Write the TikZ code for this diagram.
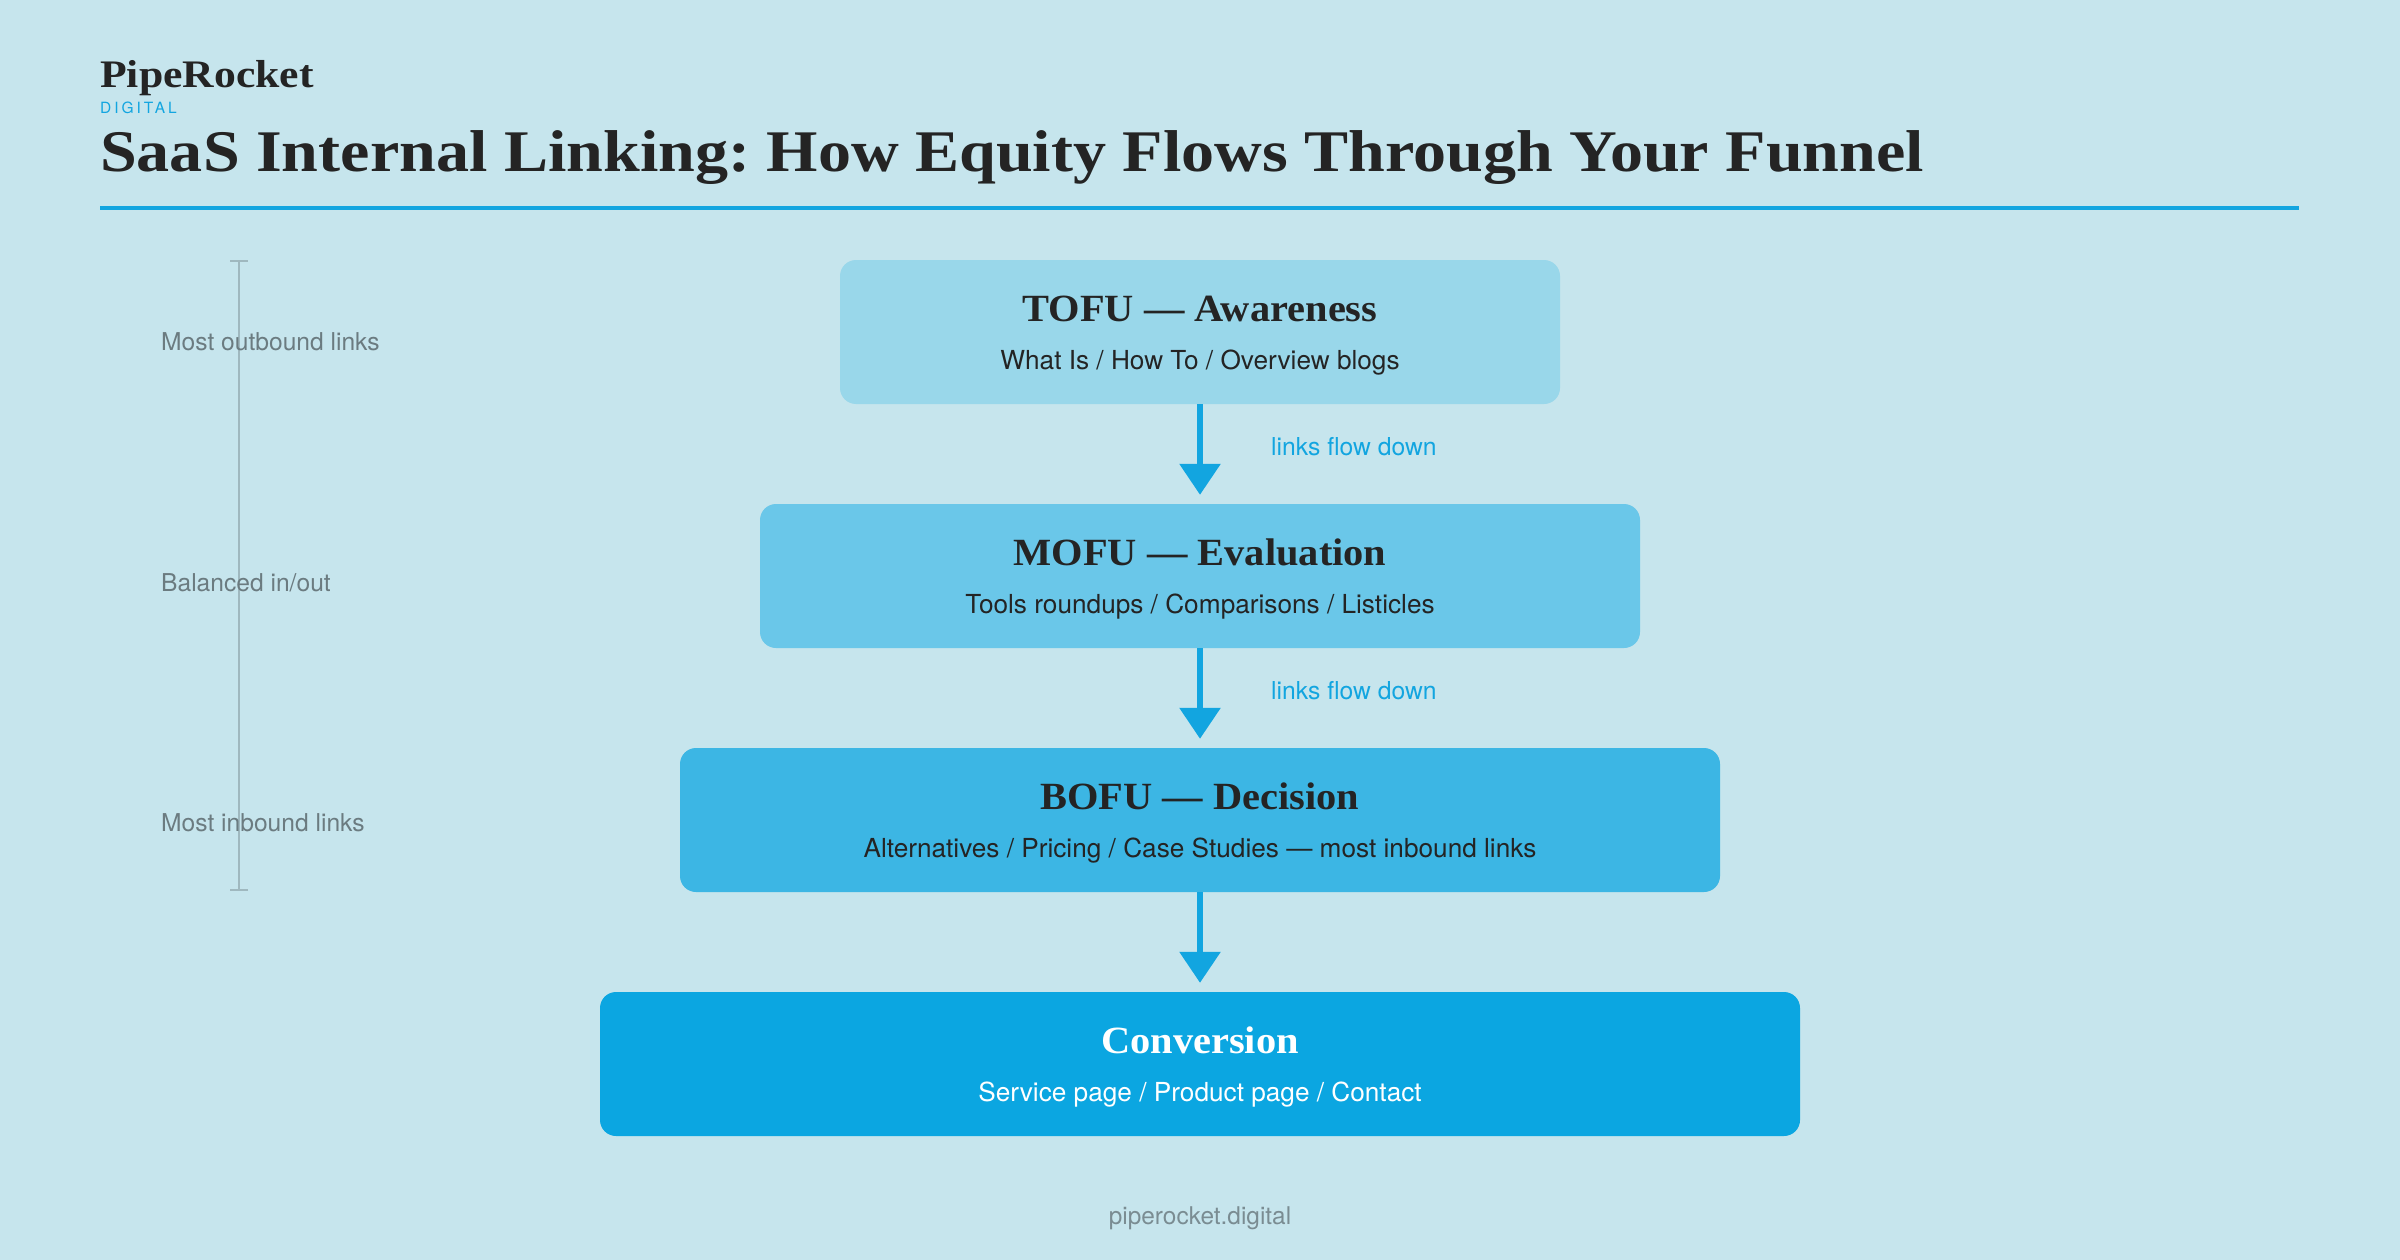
\documentclass[tikz,border=0pt]{standalone}
\usepackage{fontspec}
\setmainfont{TeX Gyre Heros}
\newfontfamily\headserif[FakeStretch=1.12]{Liberation Serif}
\newfontfamily\boxserif[FakeStretch=1.05]{Liberation Serif}
\newfontfamily\spacedsans[LetterSpace=19]{TeX Gyre Heros}
\usetikzlibrary{arrows.meta,positioning}
\definecolor{pagebg}{HTML}{C6E5ED}
\definecolor{accent}{HTML}{12A5E0}
\definecolor{inkdark}{HTML}{242424}
\definecolor{notegray}{HTML}{6B7B80}
\definecolor{footgray}{HTML}{7A8C92}
\definecolor{scalegray}{HTML}{9FB8BF}
\definecolor{tofufill}{HTML}{99D7EA}
\definecolor{mofufill}{HTML}{6AC7E9}
\definecolor{bofufill}{HTML}{3CB6E4}
\definecolor{convfill}{HTML}{0BA6E1}
\newcommand{\fsz}[1]{\fontsize{#1pt}{#1pt}\selectfont}
\frenchspacing

\begin{document}
\begin{tikzpicture}[x=1pt, y=-1pt, every node/.style={inner sep=0pt},
  stage/.style={rounded corners=16pt, minimum height=144pt},
  head/.style={anchor=base, font=\boxserif\bfseries\fsz{38.5}, text=inkdark},
  sub/.style={anchor=base, font=\fsz{26.2}, text=inkdark},
  sidenote/.style={anchor=base west, font=\fsz{24.6}, text=notegray},
  flowlabel/.style={anchor=base west, font=\fsz{24.7}, text=accent},
  flow/.style={draw=accent, line width=6pt, -{Triangle[width=40pt,length=31pt]}, shorten >=9pt}]
  \useasboundingbox (0,0) rectangle (2400,1260);
  \fill[pagebg] (0,0) rectangle (2400,1260);

  % header
  \node[anchor=base west, font=\headserif\bfseries\fsz{39}, text=inkdark] (brand) at (100,88) {PipeRocket};
  \node[anchor=base west, font=\spacedsans\fsz{15.5}, text=accent] (brandsub) at (100,114) {DIGITAL};
  \node[anchor=base west, font=\headserif\bfseries\fsz{59}, text=inkdark] (title) at (100,172)
    {SaaS Internal Linking: How Equity Flows Through Your Funnel};
  \draw[accent, line width=4pt] (100,208) -- (2299,208);

  % side scale
  \coordinate (scale-top) at (239,260);
  \coordinate (scale-bot) at (239,891);
  \draw[scalegray, line width=1.8pt, {Bar[width=18pt]}-{Bar[width=18pt]}] (scale-top) -- (scale-bot);
  \node[sidenote] (note-out) at (161,350) {Most outbound links};
  \node[sidenote] (note-bal) at (161,591) {Balanced in/out};
  \node[sidenote] (note-in)  at (161,831) {Most inbound links};

  % funnel stages
  \node[stage, fill=tofufill, minimum width=720pt]  (tofu) at (1200,332) {};
  \node[head] (tofu-head) at ([yshift=-62pt]tofu.north) {TOFU — Awareness};
  \node[sub]  (tofu-sub)  at ([yshift=-110pt]tofu.north) {What Is / How To / Overview blogs};

  \node[stage, fill=mofufill, minimum width=880pt]  (mofu) at (1200,576) {};
  \node[head] (mofu-head) at ([yshift=-62pt]mofu.north) {MOFU — Evaluation};
  \node[sub]  (mofu-sub)  at ([yshift=-110pt]mofu.north) {Tools roundups / Comparisons / Listicles};

  \node[stage, fill=bofufill, minimum width=1040pt] (bofu) at (1200,820) {};
  \node[head] (bofu-head) at ([yshift=-62pt]bofu.north) {BOFU — Decision};
  \node[sub]  (bofu-sub)  at ([yshift=-110pt]bofu.north) {Alternatives / Pricing / Case Studies — most inbound links};

  \node[stage, fill=convfill, minimum width=1200pt] (conv) at (1200,1064) {};
  \node[head, text=white] (conv-head) at ([yshift=-62pt]conv.north) {Conversion};
  \node[sub, text=white]  (conv-sub)  at ([yshift=-110pt]conv.north) {Service page / Product page / Contact};

  % flow arrows
  \draw[flow] (tofu) -- (mofu);
  \draw[flow] (mofu) -- (bofu);
  \draw[flow] (bofu) -- (conv);
  \node[flowlabel] (flow-a) at (1271,455) {links flow down};
  \node[flowlabel] (flow-b) at (1271,699) {links flow down};

  \node[anchor=base, font=\fsz{24.4}, text=footgray] (site) at (1200,1224) {piperocket.digital};
\end{tikzpicture}
\end{document}
